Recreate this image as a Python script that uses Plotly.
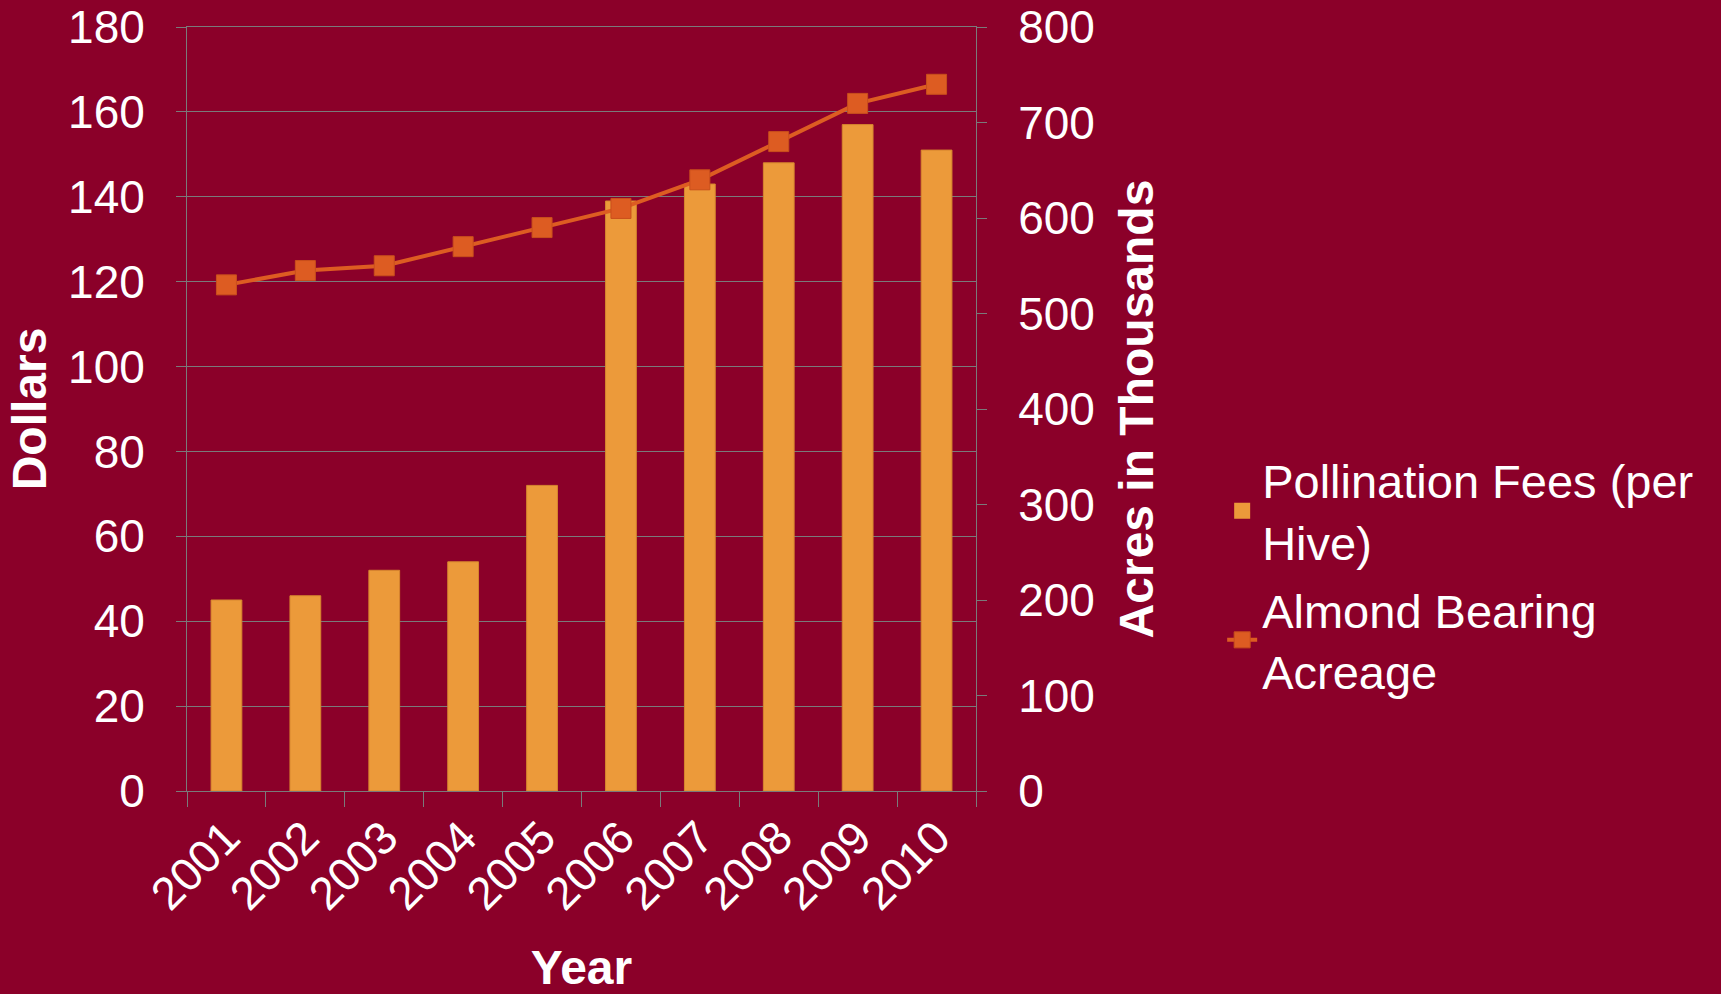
import plotly.graph_objects as go

years = ["2001", "2002", "2003", "2004", "2005", "2006", "2007", "2008", "2009", "2010"]
fees = [45, 46, 52, 54, 72, 139, 143, 148, 157, 151]
acreage = [530, 545, 550, 570, 590, 610, 640, 680, 720, 740]

BG = "#8B0029"
BAR = "#EC9A3A"
LINE = "#DD5C22"
GRID = "#7a7a7a"
FONT = "Liberation Sans, Arial, sans-serif"

fig = go.Figure()
fig.add_trace(go.Bar(
    x=years, y=fees, name="Pollination Fees (per<br>Hive)",
    marker=dict(color=BAR, line=dict(color="#d6862e", width=1)),
    width=0.39, yaxis="y", showlegend=False, legendgroup="fees",
))
# legend swatch for the bar series
fig.add_trace(go.Scatter(
    x=[None], y=[None], name="Pollination Fees (per<br>Hive)",
    mode="markers", marker=dict(symbol="square", size=22, color=BAR),
    legendgroup="fees",
))
fig.add_trace(go.Scatter(
    x=years, y=acreage, name="Almond Bearing<br>Acreage", yaxis="y2",
    mode="lines+markers",
    line=dict(color=LINE, width=4),
    marker=dict(symbol="square", size=20, color=LINE, line=dict(color="#c94f1c", width=1)),
))

fig.update_layout(
    width=1721, height=994,
    paper_bgcolor=BG, plot_bgcolor=BG,
    margin=dict(l=187, r=745, t=27, b=203),
    font=dict(family=FONT, color="white", size=46),
    showlegend=True,
    legend=dict(
        x=1.312, xanchor="left", y=0.282, yanchor="middle",
        font=dict(size=47, color="white"), bgcolor="rgba(0,0,0,0)",
        tracegroupgap=4,
    ),
    xaxis=dict(
        type="category", range=[-0.5, 9.5], tickangle=-45, tickson="boundaries",
        ticks="outside", ticklen=15, tickcolor=GRID, automargin=False,
        showline=True, mirror=True, linecolor=GRID, linewidth=1, showgrid=False,
        tickfont=dict(size=46, color="white"),
        title=dict(text="<b>Year</b>", font=dict(size=48, color="white"), standoff=40),
    ),
    yaxis=dict(
        range=[0, 180], dtick=20, showgrid=True, gridcolor=GRID, gridwidth=1,
        showline=True, linecolor=GRID, linewidth=1, automargin=False,
        ticks="outside", ticklen=10, tickcolor=GRID,
        ticklabelstandoff=22,
        tickfont=dict(size=46, color="white"), zeroline=False,
        title=dict(text="<b>Dollars</b>", font=dict(size=48, color="white"), standoff=6),
    ),
    yaxis2=dict(
        range=[0, 800], dtick=100, overlaying="y", side="right",
        showgrid=False, showline=True, linecolor=GRID, linewidth=1, automargin=False,
        ticks="outside", ticklen=10, tickcolor=GRID,
        ticklabelstandoff=22,
        tickfont=dict(size=46, color="white"), zeroline=False,
        title=dict(text="<b>Acres in Thousands</b>", font=dict(size=48, color="white"), standoff=25),
    ),
    bargap=0.61,
)

fig.write_html(
    "out.html",
    config={"displayModeBar": False},
    post_script="document.body.style.margin='0';document.body.style.overflow='hidden';",
)
